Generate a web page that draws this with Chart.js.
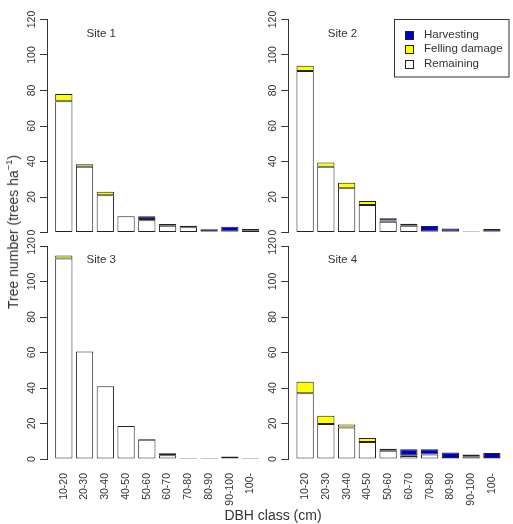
<!DOCTYPE html>
<html><head><meta charset="utf-8">
<script src="https://cdn.jsdelivr.net/npm/chart.js@4/dist/chart.umd.min.js"></script>
<style>
html,body{margin:0;padding:0;background:#fff;}
#wrap{position:relative;width:513px;height:524px;overflow:hidden;font-family:"Liberation Sans",Arial,sans-serif;color:#333;}
canvas{position:absolute;left:0;top:0;}
#ytitle{position:absolute;left:12.5px;top:232px;transform:translate(-50%,-50%) rotate(-90deg);white-space:nowrap;font-size:14px;line-height:14px;}
#xtitle{position:absolute;left:273px;top:515px;transform:translate(-50%,-50%);white-space:nowrap;font-size:14px;line-height:14px;}
sup{font-size:9.5px;vertical-align:6px;line-height:0;}
</style></head>
<body>
<div id="wrap">
<canvas id="c1" width="513" height="524"></canvas>
<canvas id="c2" width="513" height="524"></canvas>
<canvas id="c3" width="513" height="524"></canvas>
<canvas id="c4" width="513" height="524"></canvas>
<div id="ytitle">Tree number (trees ha<sup>−1</sup>)</div>
<div id="xtitle">DBH class (cm)</div>
</div>
<script>
// ---- data ----
const categories = ['10-20','20-30','30-40','40-50','50-60','60-70','70-80','80-90','90-100','100-'];
const yTicks = [0, 20, 40, 60, 80, 100, 120];
const seriesLabels = ['Remaining', 'Felling damage', 'Harvesting'];
const siteNames = ['Site 1', 'Site 2', 'Site 3', 'Site 4'];

const remaining1  = [74, 37, 21, 9.2, 6.9, 3.8, 2.9, 0.6, 0.6, 1.2];
const felling1    = [4, 1.5, 2, 0, 0.7, 1.0, 0.9, 0, 0, 0.8];
const harvesting1 = [0, 0, 0, 0, 1.5, 0, 0, 1.2, 2.7, 0];

const remaining2  = [91, 37, 25, 15.5, 6, 3.8, 0.6, 0.6, 0.6, 0.6];
const felling2    = [3, 2.5, 3, 2.2, 0.8, 0, 0, 0, 0, 0];
const harvesting2 = [0, 0, 0, 0, 1.2, 1.2, 3.1, 1.7, 0, 1.4];

const remaining3  = [113, 60.5, 41, 18.6, 10.8, 2.1, 0.6, 0.6, 0.6, 0.6];
const felling3    = [1.7, 0, 0, 0, 0.5, 0, 0, 0, 0, 0];
const harvesting3 = [0, 0, 0, 0, 0, 1.1, 0, 0, 0.8, 0];

const remaining4  = [37, 19.7, 17.8, 9.6, 4.7, 1.7, 2.6, 0.6, 1.5, 0.6];
const felling4    = [6.5, 4.7, 1.7, 2.2, 1.1, 0.4, 0, 0, 0, 0];
const harvesting4 = [0, 0, 0, 0, 0, 3.4, 2.9, 3.1, 1.1, 2.8];

// ---- styling ----
const FONT = '"Liberation Sans", Arial, sans-serif';
const TEXT = '#333333';
const LINE = '#333333';
const EDGE = '#222222';
const fills = { 'Remaining': '#ffffff', 'Felling damage': '#ffff00', 'Harvesting': '#0000cd' };
const X_MIN = -0.81, X_MAX = 9.81;

const siteLabelPlugin = {
  id: 'siteLabel',
  afterDatasetsDraw(chart, args, opts) {
    if (!opts.text) return;
    const ctx = chart.ctx;
    ctx.save();
    ctx.font = '11.5px ' + FONT;
    ctx.fillStyle = TEXT;
    ctx.textAlign = 'center';
    ctx.textBaseline = 'middle';
    ctx.fillText(opts.text, chart.scales.x.getPixelForValue(opts.xv), chart.scales.y.getPixelForValue(opts.yv));
    ctx.restore();
  }
};

const boxLegendPlugin = {
  id: 'boxLegend',
  afterDraw(chart, args, opts) {
    if (!opts.show) return;
    const ctx = chart.ctx;
    const a = chart.chartArea;
    const w = 114.5, h = 57.5;
    const left = a.right - w - 0.2, top = a.top - 0.5;
    ctx.save();
    ctx.strokeStyle = LINE;
    ctx.lineWidth = 1;
    ctx.strokeRect(Math.round(left) + 0.5, Math.round(top) + 0.5, w, h);
    ctx.font = '11.5px ' + FONT;
    ctx.textBaseline = 'middle';
    ctx.textAlign = 'left';
    const items = chart.data.datasets.slice().reverse();
    items.forEach((ds, i) => {
      const cy = top + 15.5 + i * 14.5;
      ctx.fillStyle = ds.backgroundColor;
      ctx.fillRect(Math.round(left + 11) + 0.5, Math.round(cy - 4) + 0.5, 8, 8);
      ctx.strokeStyle = EDGE;
      ctx.strokeRect(Math.round(left + 11) + 0.5, Math.round(cy - 4) + 0.5, 8, 8);
      ctx.fillStyle = TEXT;
      ctx.fillText(ds.label, left + 30, cy);
    });
    ctx.restore();
  }
};

const panels = [
  { id: 'c1', site: siteNames[0], rem: remaining1, fell: felling1, harv: harvesting1, L: 47,    R: 267.4, T: 19.5, B: 232.5, bottom: false, legend: false },
  { id: 'c2', site: siteNames[1], rem: remaining2, fell: felling2, harv: harvesting2, L: 288.3, R: 508.7, T: 19.5, B: 232.5, bottom: false, legend: true },
  { id: 'c3', site: siteNames[2], rem: remaining3, fell: felling3, harv: harvesting3, L: 47,    R: 267.4, T: 246,  B: 459,   bottom: true,  legend: false },
  { id: 'c4', site: siteNames[3], rem: remaining4, fell: felling4, harv: harvesting4, L: 288.3, R: 508.7, T: 246,  B: 459,   bottom: true,  legend: false }
];

const Y_W = 27;
panels.forEach(p => {
  const xH = p.bottom ? 60 : 0;
  const toPts = arr => arr.map((v, i) => ({ x: i, y: v }));
  const series = [p.rem, p.fell, p.harv];
  new Chart(document.getElementById(p.id), {
    type: 'bar',
    data: {
      datasets: seriesLabels.map((lab, k) => ({
        label: lab,
        data: toPts(series[k]),
        backgroundColor: fills[lab],
        borderColor: EDGE,
        borderWidth: 1,
        borderSkipped: false,
        categoryPercentage: 1,
        barPercentage: 1 / 1.2
      }))
    },
    options: {
      responsive: false,
      animation: false,
      events: [],
      layout: { padding: { left: p.L - Y_W, right: 513 - p.R, top: p.T, bottom: 524 - p.B - xH } },
      plugins: {
        legend: { display: false },
        tooltip: { enabled: false },
        siteLabel: { text: p.site, xv: 1.8, yv: 112 },
        boxLegend: { show: p.legend }
      },
      scales: {
        x: {
          type: 'linear',
          stacked: true,
          offset: false,
          min: X_MIN, max: X_MAX,
          afterBuildTicks: s => { s.ticks = categories.map((c, i) => ({ value: i })); },
          afterFit: s => { s.height = xH; },
          grid: { display: false, offset: false },
          border: { display: false },
          ticks: {
            display: p.bottom,
            autoSkip: false,
            minRotation: 90, maxRotation: 90,
            padding: 6,
            color: TEXT,
            font: { family: FONT, size: 10.5 },
            callback: v => categories[Math.round(v)]
          }
        },
        y: {
          stacked: true,
          min: 0, max: 120,
          afterBuildTicks: s => { s.ticks = yTicks.map(v => ({ value: v })); },
          afterFit: s => { s.width = Y_W; },
          grid: { drawOnChartArea: false, drawTicks: true, tickLength: 7, color: LINE, lineWidth: 1 },
          border: { display: true, color: LINE, width: 1 },
          ticks: {
            minRotation: 90, maxRotation: 90,
            crossAlign: 'center',
            padding: -1,
            color: TEXT,
            font: { family: FONT, size: 10.5 }
          }
        }
      }
    },
    plugins: [siteLabelPlugin, boxLegendPlugin]
  });
});
</script>
</body></html>
